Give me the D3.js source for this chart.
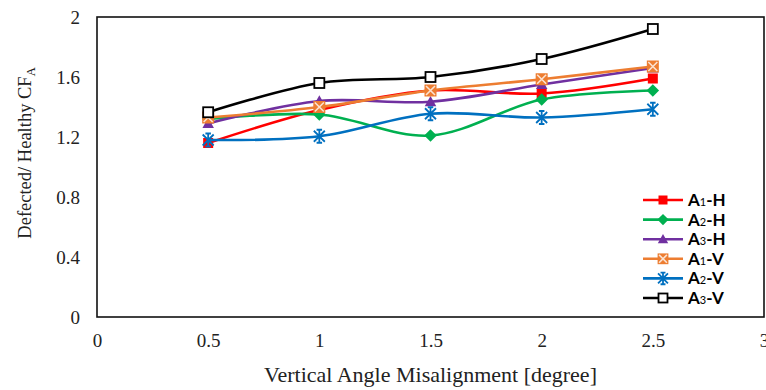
<!DOCTYPE html>
<html>
<head>
<meta charset="utf-8">
<script src="https://cdn.jsdelivr.net/npm/d3@7"></script>
<style>
  html, body { margin: 0; padding: 0; background: #fff; }
  svg { display: block; }
</style>
</head>
<body>
<svg id="chart" width="766" height="390"></svg>
<script>
// Misalignment angle (degrees) on the x axis
const angles = [0.5, 1, 1.5, 2, 2.5];

// Defected / healthy CF_A ratio per configuration
const a1H = [1.16, 1.38, 1.51, 1.49, 1.59];
const a2H = [1.32, 1.35, 1.21, 1.45, 1.51];
const a3H = [1.29, 1.44, 1.435, 1.55, 1.66];
const a1V = [1.33, 1.40, 1.51, 1.585, 1.67];
const a2V = [1.18, 1.205, 1.355, 1.33, 1.385];
const a3V = [1.365, 1.56, 1.60, 1.72, 1.92];

// Legend names: base letter, subscript digit, suffix
const seriesNames = [["A", "1", "-H"], ["A", "2", "-H"], ["A", "3", "-H"],
                     ["A", "1", "-V"], ["A", "2", "-V"], ["A", "3", "-V"]];
const seriesColors = ["#FF0000", "#00B050", "#7030A0", "#ED7D31", "#0070C0", "#000000"];
const seriesMarkers = ["square", "diamond", "triangle", "xsquare", "asterisk", "opensquare"];
const seriesValues = [a1H, a2H, a3H, a1V, a2V, a3V];

const xTicks = [0, 0.5, 1, 1.5, 2, 2.5, 3];
const yTicks = [0, 0.4, 0.8, 1.2, 1.6, 2];
const yTickLabels = ["0", "0.4", "0.8", "1.2", "1.6", "2"];

const svg = d3.select("#chart");
const plot = { left: 97, right: 764, top: 17, bottom: 317 };

const x = d3.scaleLinear().domain([0, 3]).range([plot.left, plot.right]);
const y = d3.scaleLinear().domain([0, 2]).range([plot.bottom, plot.top]);

const serif = "'Liberation Serif', 'Times New Roman', serif";

// Tick labels (no tick marks, only labels)
const xAxis = d3.axisBottom(x).tickValues(xTicks).tickSize(0).tickPadding(17)
  .tickFormat(d => d3.format("")(d));
svg.append("g").attr("transform", `translate(0,${plot.bottom})`).call(xAxis)
  .call(g => g.select(".domain").remove())
  .selectAll("text").attr("font-family", serif).attr("font-size", 19).attr("fill", "#222");

const yAxis = d3.axisLeft(y).tickValues(yTicks).tickSize(0).tickPadding(17)
  .tickFormat((d, i) => yTickLabels[i]);
svg.append("g").attr("transform", `translate(${plot.left},0)`).call(yAxis)
  .call(g => g.select(".domain").remove())
  .selectAll("text").attr("font-family", serif).attr("font-size", 19).attr("fill", "#222");

// Plot frame
svg.append("rect")
  .attr("x", plot.left).attr("y", plot.top)
  .attr("width", plot.right - plot.left).attr("height", plot.bottom - plot.top)
  .attr("fill", "none").attr("stroke", "#111").attr("stroke-width", 1.6);

// Axis titles
svg.append("text")
  .attr("x", (plot.left + plot.right) / 2)
  .attr("y", 382)
  .attr("text-anchor", "middle")
  .attr("font-family", serif).attr("font-size", 22).attr("fill", "#222")
  .text("Vertical Angle Misalignment [degree]");

const yTitle = svg.append("text")
  .attr("transform", `translate(31,153) rotate(-90)`)
  .attr("text-anchor", "middle")
  .attr("font-family", serif).attr("font-size", 18.5).attr("fill", "#222");
yTitle.append("tspan").text("Defected/ Healthy CF");
yTitle.append("tspan").attr("font-size", 12.5).attr("dy", 4).text("A");

// Marker drawing
function drawMarker(g, type, color, s) {
  const h = s / 2;
  if (type === "square") {
    g.append("rect").attr("x", -h).attr("y", -h).attr("width", s).attr("height", s).attr("fill", color);
  } else if (type === "diamond") {
    const d = h * 1.25;
    g.append("path").attr("d", `M0,${-d}L${d},0L0,${d}L${-d},0Z`).attr("fill", color);
  } else if (type === "triangle") {
    const t = h * 1.15;
    g.append("path").attr("d", `M0,${-t}L${t},${t * 0.8}L${-t},${t * 0.8}Z`).attr("fill", color);
  } else if (type === "xsquare") {
    const q = h * 1.2;
    g.append("rect").attr("x", -q).attr("y", -q).attr("width", 2 * q).attr("height", 2 * q).attr("fill", color);
    g.append("path").attr("d", `M${-q + 1.5},${-q + 1.5}L${q - 1.5},${q - 1.5}M${q - 1.5},${-q + 1.5}L${-q + 1.5},${q - 1.5}`)
      .attr("stroke", "#FBE3D2").attr("stroke-width", 1.6).attr("fill", "none");
  } else if (type === "asterisk") {
    const a = h * 1.1, v = h * 1.3, c = h * 0.55;
    g.append("path")
      .attr("d", `M0,${-v}L0,${v}M${-a},${-a}L${a},${a}M${a},${-a}L${-a},${a}M${-c},${-v}L${c},${-v}M${-c},${v}L${c},${v}`)
      .attr("stroke", color).attr("stroke-width", 1.8).attr("fill", "none");
  } else if (type === "opensquare") {
    g.append("rect").attr("x", -h).attr("y", -h).attr("width", s).attr("height", s)
      .attr("fill", "#fff").attr("stroke", color).attr("stroke-width", 1.8);
  }
}

// Smoothed series lines with markers, drawn in series order
const line = d3.line()
  .x((d, i) => x(angles[i]))
  .y(d => y(d))
  .curve(d3.curveCatmullRom.alpha(0.5));

seriesValues.forEach((vals, k) => {
  const g = svg.append("g");
  g.append("path").datum(vals).attr("d", line)
    .attr("fill", "none").attr("stroke", seriesColors[k]).attr("stroke-width", 2.6)
    .attr("stroke-linejoin", "round");
  vals.forEach((v, i) => {
    const m = g.append("g").attr("transform", `translate(${x(angles[i])},${y(v)})`);
    drawMarker(m, seriesMarkers[k], seriesColors[k], 10);
  });
});

// Legend in the lower-right corner of the plot
const legend = svg.append("g");
const legX0 = 643, legX1 = 683, legY0 = 200, legStep = 19.6;
seriesNames.forEach((name, k) => {
  const yy = legY0 + k * legStep;
  legend.append("line").attr("x1", legX0).attr("x2", legX1).attr("y1", yy).attr("y2", yy)
    .attr("stroke", seriesColors[k]).attr("stroke-width", 2.6);
  const m = legend.append("g").attr("transform", `translate(${(legX0 + legX1) / 2},${yy})`);
  drawMarker(m, seriesMarkers[k], seriesColors[k], 9);
  const t = legend.append("text").attr("x", legX1 + 5).attr("y", yy + 6)
    .attr("font-family", "Lato, 'Open Sans', sans-serif").attr("font-weight", "bold")
    .attr("font-size", 17).attr("fill", "#000");
  t.append("tspan").text(name[0]);
  t.append("tspan").attr("font-size", 11).attr("font-weight", "normal").text(name[1]);
  t.append("tspan").text(name[2]);
});
</script>
</body>
</html>
